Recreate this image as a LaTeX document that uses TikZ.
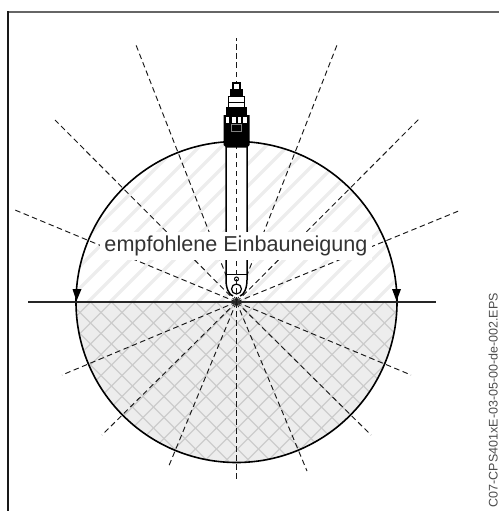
\documentclass[tikz,border=0pt]{standalone}
\usepackage{fontspec}
\setmainfont{Liberation Sans}
\definecolor{hatchA}{gray}{0.93}
\definecolor{hatchB}{gray}{0.8}
\definecolor{fillB}{gray}{0.93}
\tikzset{
  raydash/.style={draw=black!90,line width=0.95pt,dash pattern=on 5.5pt off 3.5pt},
  hatchup/.style={draw=hatchA,line width=3.2pt},
  hatchlow/.style={draw=hatchB,line width=1.2pt},
  outl/.style={draw=black,line width=1.6pt},
  blk/.style={fill=black,draw=none},
  wht/.style={fill=white,draw=none}
}
\begin{document}
\begin{tikzpicture}[x=1pt,y=-1pt]
\useasboundingbox (0,0) rectangle (499,511);
\coordinate (C) at (236.5,302);
% frame
\draw[draw=black!60,line width=1.4pt] (8,12) -- (499,12);
\draw[draw=black!90,line width=1.3pt] (8,11.4) -- (8,511);
% fills and hatching
\begin{scope}
\clip (70,302) rectangle (403,135);
\clip (C) circle[radius=160.5];
\foreach \i in {-20,...,40}{
  \draw[hatchup] ({\i*22},302) -- ({\i*22+170},132);
}
\end{scope}
\begin{scope}
\clip (70,302) rectangle (403,470);
\clip (C) circle[radius=160.5];
\fill[fillB] (70,300) rectangle (403,470);
\foreach \i in {-20,...,40}{
  \draw[hatchlow] ({\i*21+6.5},302) -- ({\i*21+176.5},472);
  \draw[hatchlow] ({\i*21+6.5},302) -- ({\i*21-163.5},472);
}
\end{scope}
% rays
\foreach \e in {(136,45),(337,45),(55,120),(420,118),(15,210),(461,210),
  (62,375),(411,375),(102,435),(371,435),(168,468),(307,471)}{
  \draw[raydash] (C) -- \e;
}
% circle + baseline
\draw[outl] (C) circle[radius=160.5];
\draw[draw=black!85,line width=1.5pt] (28,302) -- (436,302);
\fill[black] (72.5,289) -- (81.5,289) -- (76.5,301) -- cycle;
\fill[black] (392,289) -- (401,289) -- (396.5,301) -- cycle;
% sensor shaft
\fill[white] (226,147) -- (226,280) .. controls (226,288) and (229,295) .. (233,296) -- (240,296) .. controls (244,295) and (247,288) .. (247,280) -- (247,147) -- cycle;
\draw[black,line width=1.5pt] (226,147) -- (226,280) .. controls (226,288) and (229,295) .. (233,296);
\draw[black,line width=1.5pt] (247,147) -- (247,280) .. controls (247,288) and (244,295) .. (240,296);
\draw[black,line width=1pt] (226,274) -- (247,274);
\draw[black,line width=1pt] (236.5,279) circle[radius=2];
\draw[black,line width=1.2pt] (236.5,289) circle[radius=5];
% axis
\draw[raydash] (C) -- (236.5,38);
\draw[raydash] (C) -- (236.5,481);
% sensor head
\fill[blk] (231.7,82) rectangle (241.3,90);
\fill[wht] (234,84) rectangle (239,89.5);
\fill[blk] (230,89) rectangle (243,97);
\fill[blk] (227.5,96) rectangle (245,108);
\fill[wht] (228.7,97) rectangle (243.8,102);
\fill[wht] (228.7,103) rectangle (243.8,107);
\fill[blk] (225.7,107) rectangle (247.3,116);
\fill[blk] (223.5,115) -- (249.5,115) -- (249.5,145) -- (247,147.5) -- (226,147.5) -- (223.5,145) -- cycle;
\fill[wht] (225.7,116.7) rectangle (229,123.3);
\fill[wht] (232,116.7) rectangle (236.4,123);
\fill[wht] (237.7,116.7) rectangle (241,123);
\fill[wht] (243.3,116.7) rectangle (247.3,123.3);
\draw[draw=black!50,line width=0.6pt] (231,124) rectangle (241.5,131.5);
% label patch and text
\node[fill=white,inner sep=0pt,minimum width=272pt,minimum height=28pt] (lab) at (236,246) {};
\node[text=black!80,font=\fontsize{21.6pt}{24pt}\selectfont,inner sep=0pt] (labt) at (236,246) {empfohlene Einbauneigung};
% side text
\node[rotate=90,anchor=base east,text=black!70,inner sep=0pt,font=\fontsize{12.5pt}{14pt}\selectfont] (code) at (497.5,293) {C07-CPS401xE-03-05-00-de-002.EPS};
\end{tikzpicture}
\end{document}
